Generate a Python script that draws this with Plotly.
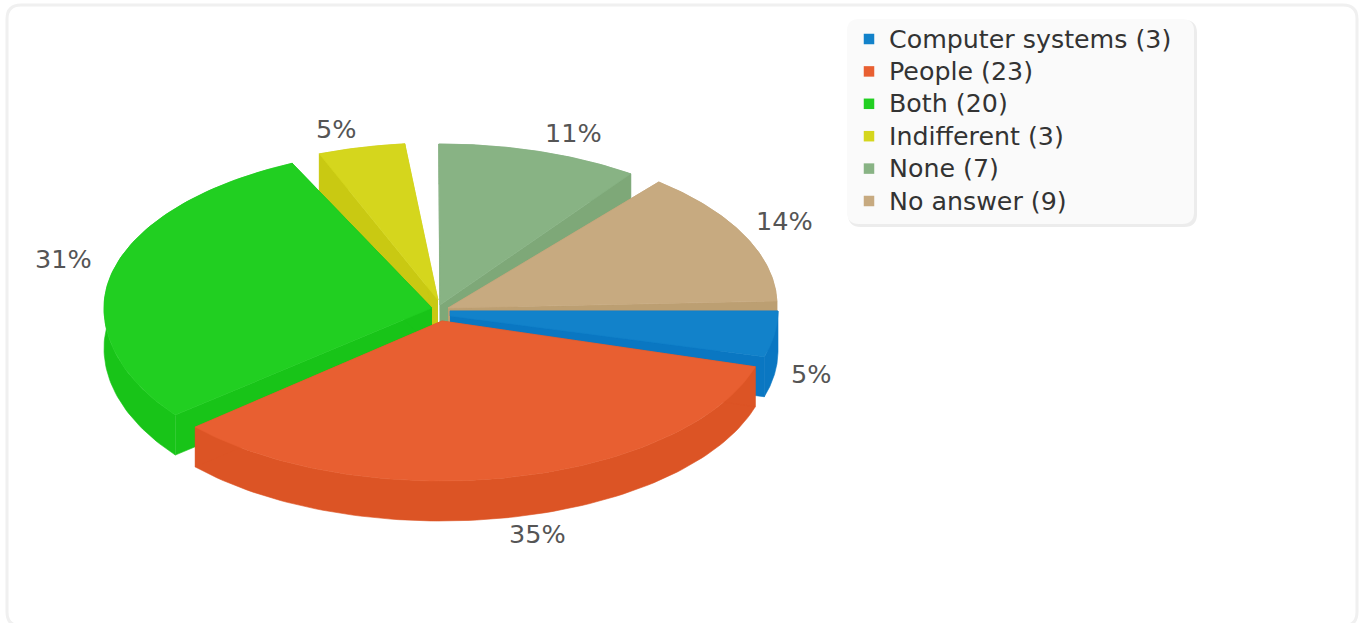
import numpy as np
import plotly.graph_objects as go

# ---- data ----
categories = ["Computer systems", "People", "Both", "Indifferent", "None", "No answer"]
counts = [3, 23, 20, 3, 7, 9]

# ---- style ----
top_colors = ["#1282ca", "#e85f31", "#21cf21", "#d5d61d", "#88b384", "#c7aa80"]
side_colors = ["#0a77c2", "#dc5425", "#18c418", "#c9c912", "#7ea878", "#bc9f72"]

W, H = 1365, 623
RX, RY, DEPTH = 328, 160, 40
# per-slice explode geometry, screen pixels: arc centre and wedge tips
centres = [(450, 311), (441, 321), (432, 308), (438, 303), (440, 304), (449, 305)]
tips = [(450, 311), (442, 321), (432, 308), (438, 300), (440, 305), (448, 308)]
tips_end = [(450, 316), (442, 321), (432, 308), (438, 300), (440, 305), (448, 308)]
front_ry = [160, 160, 172, 160, 160, 160]
# the perspective and explode of the original shift the wedge edges by a few degrees
start_shift = [0, 0, -2.5, -6, -1.6, -0.4]
end_shift = [0, -5.5, -10, -7.2, -4.6, -1.4]
label_pos = [(811, 374), (537, 534), (63, 259), (336, 129), (573, 133), (784, 221)]
draw_order = [4, 3, 5, 0, 2, 1]
LEGEND_MARK_X, LEGEND_TEXT_X, LEGEND_Y0, LEGEND_ROW = 869, 888, 39, 32.4

total = sum(counts)
edges = np.cumsum([0] + counts) / total * 360.0

fig = go.Figure()


def poly(xs, ys, color, line_w=0.6):
    fig.add_trace(go.Scatter(
        x=list(xs), y=list(ys), mode="lines", fill="toself", fillcolor=color,
        line=dict(color=color, width=line_w), showlegend=False, hoverinfo="skip",
    ))


for i in draw_order:
    a0 = edges[i] + start_shift[i]
    a1 = edges[i + 1] + end_shift[i]
    cx, cy = centres[i]
    tx, ty = tips[i]
    ex, ey = tips_end[i]
    t = np.radians(np.linspace(a0, a1, 90))
    s = np.sin(t)
    ax = cx + RX * np.cos(t)
    ay = cy + np.where(s > 0, front_ry[i], RY) * s
    # outer wall
    poly(np.r_[ax, ax[::-1]], np.r_[ay, ay[::-1] + DEPTH], side_colors[i])
    # the two cut faces
    poly([tx, ax[0], ax[0], tx], [ty, ay[0], ay[0] + DEPTH, ty + DEPTH], side_colors[i])
    poly([ex, ax[-1], ax[-1], ex], [ey, ay[-1], ay[-1] + DEPTH, ey + DEPTH], side_colors[i])
    # top face
    poly(np.r_[tx, ax, ex, tx], np.r_[ty, ay, ey, ty], top_colors[i])

# percentage labels
for n, (lx, ly) in zip(counts, label_pos):
    fig.add_annotation(x=lx, y=ly, text=f"{round(n / total * 100)}%", showarrow=False,
                       font=dict(family="DejaVu Sans", size=25.5, color="#555555"),
                       xanchor="center", yanchor="middle")

# legend, laid out to the original's row pitch
for k, (name, n, c) in enumerate(zip(categories, counts, top_colors)):
    row_y = LEGEND_Y0 + k * LEGEND_ROW
    fig.add_trace(go.Scatter(
        x=[LEGEND_MARK_X], y=[row_y], mode="markers", name=f"{name} ({n})",
        marker=dict(symbol="square", size=10.5, color=c), showlegend=False, hoverinfo="name",
    ))
    fig.add_annotation(x=LEGEND_TEXT_X, y=row_y, text=f"{name} ({n})", showarrow=False,
                       font=dict(family="DejaVu Sans", size=25.3, color="#333333"),
                       xanchor="left", yanchor="middle", xshift=-1.5)


def rounded(x0, y0, x1, y1, r):
    return (f"M{x0 + r},{y0} L{x1 - r},{y0} Q{x1},{y0} {x1},{y0 + r} L{x1},{y1 - r} "
            f"Q{x1},{y1} {x1 - r},{y1} L{x0 + r},{y1} Q{x0},{y1} {x0},{y1 - r} "
            f"L{x0},{y0 + r} Q{x0},{y0} {x0 + r},{y0} Z")


shapes = [
    dict(type="path", path=rounded(7, 5, 1357, 626, 14), xref="x", yref="y", layer="below",
         line=dict(color="#f0f0f0", width=3), fillcolor="#ffffff"),
    dict(type="path", path=rounded(849, 21, 1196, 226, 12), xref="x", yref="y", layer="below",
         line=dict(color="#ececec", width=2), fillcolor="#ececec"),
    dict(type="path", path=rounded(847, 19, 1194, 224, 12), xref="x", yref="y", layer="below",
         line=dict(color="#fafafa", width=0), fillcolor="#fafafa"),
]

fig.update_layout(
    width=W, height=H, margin=dict(l=0, r=0, t=0, b=0, pad=0),
    paper_bgcolor="#ffffff", plot_bgcolor="#ffffff",
    shapes=shapes,
    xaxis=dict(range=[0, W], visible=False, fixedrange=True),
    yaxis=dict(range=[H, 0], visible=False, fixedrange=True),
    showlegend=False,
)

fig.write_html(
    "out.html",
    config={"displayModeBar": False},
    post_script="document.body.style.margin='0';document.documentElement.style.overflow='hidden';",
)
